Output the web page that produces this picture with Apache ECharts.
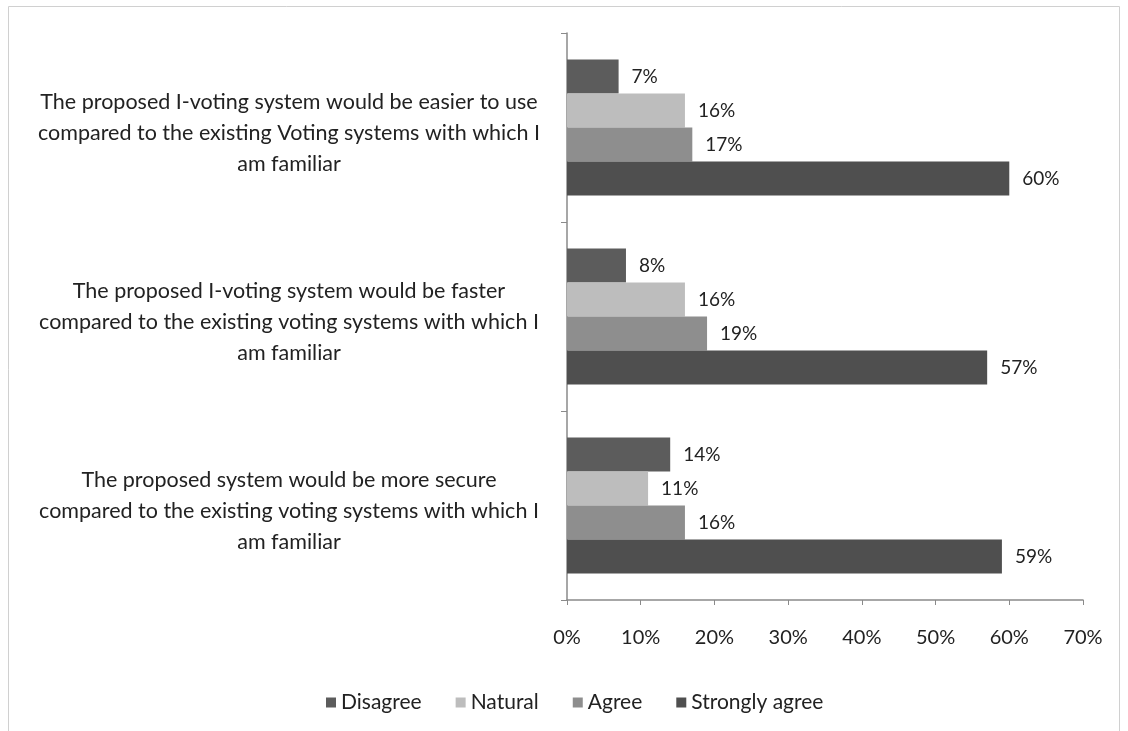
<!DOCTYPE html>
<html>
<head>
<meta charset="utf-8">
<script src="https://cdn.jsdelivr.net/npm/echarts@6/dist/echarts.min.js"></script>
<style>html,body{margin:0;padding:0;background:#fff}#c{width:1128px;height:731px}</style>
</head>
<body>
<div id="c"></div>
<script>
const categories = [
  "The proposed I-voting system would be easier to use\ncompared to the existing Voting systems with which I\nam familiar",
  "The proposed I-voting system would be faster\ncompared to the existing voting systems with which I\nam familiar",
  "The proposed system would be more secure\ncompared to the existing voting systems with which I\nam familiar"
];
const seriesNames = ["Disagree", "Natural", "Agree", "Strongly agree"];
const disagree = [7, 8, 14];
const natural = [16, 16, 11];
const agree = [17, 19, 16];
const stronglyAgree = [60, 57, 59];
const xTicks = [0, 10, 20, 30, 40, 50, 60, 70];

const colors = ["#5c5c5c", "#bdbdbd", "#8e8e8e", "#4f4f4f"];
const values = [disagree, natural, agree, stronglyAgree];
const font = "Lato, 'Open Sans', sans-serif";

const chart = echarts.init(document.getElementById('c'));
chart.setOption({
  backgroundColor: '#fff',
  animation: false,
  textStyle: { fontFamily: font },
  graphic: [{
    type: 'rect', shape: { x: 8.5, y: 6.5, width: 1111, height: 740 },
    style: { fill: 'none', stroke: '#d0d0d0', lineWidth: 1 }, silent: true
  }],
  legend: {
    data: seriesNames,
    bottom: 13,
    left: 321,
    itemWidth: 10, itemHeight: 10, itemGap: 34,
    icon: 'rect',
    textStyle: { fontSize: 21, color: '#222', fontFamily: font }
  },
  grid: { left: 567, right: 45, top: 33, bottom: 131, containLabel: false },
  xAxis: {
    type: 'value', min: 0, max: 70, interval: 10,
    axisLine: { show: true, lineStyle: { color: '#8a8a8a', width: 1.5 } },
    axisTick: { show: true, length: 5, lineStyle: { color: '#8a8a8a' } },
    splitLine: { show: false },
    axisLabel: { formatter: v => xTicks.includes(v) ? v + '%' : '', fontSize: 20, color: '#222', margin: 28, fontFamily: font }
  },
  yAxis: {
    type: 'category', data: categories, inverse: true,
    axisLine: { show: true, lineStyle: { color: '#8a8a8a', width: 1.5 } },
    axisTick: { show: true, length: 6, lineStyle: { color: '#8a8a8a' } },
    axisLabel: {
      align: 'center', margin: 278, fontSize: 21.5, lineHeight: 31, color: '#222', fontFamily: font,
      formatter: v => '{p|}\n' + v.split('\n').map(s => '{t|' + s + '}').join('\n'),
      rich: {
        p: { height: 12, lineHeight: 12, fontSize: 1 },
        t: { fontSize: 21.5, lineHeight: 31, color: '#222', fontFamily: font, align: 'center' }
      }
    }
  },
  series: seriesNames.map((n, i) => ({
    name: n, type: 'bar', data: values[i],
    barGap: '0%', barCategoryGap: '28%',
    itemStyle: { color: colors[i] },
    label: { show: true, position: 'right', distance: 13, formatter: p => p.value + '%', fontSize: 19, color: '#222', fontFamily: font }
  }))
});
</script>
</body>
</html>
